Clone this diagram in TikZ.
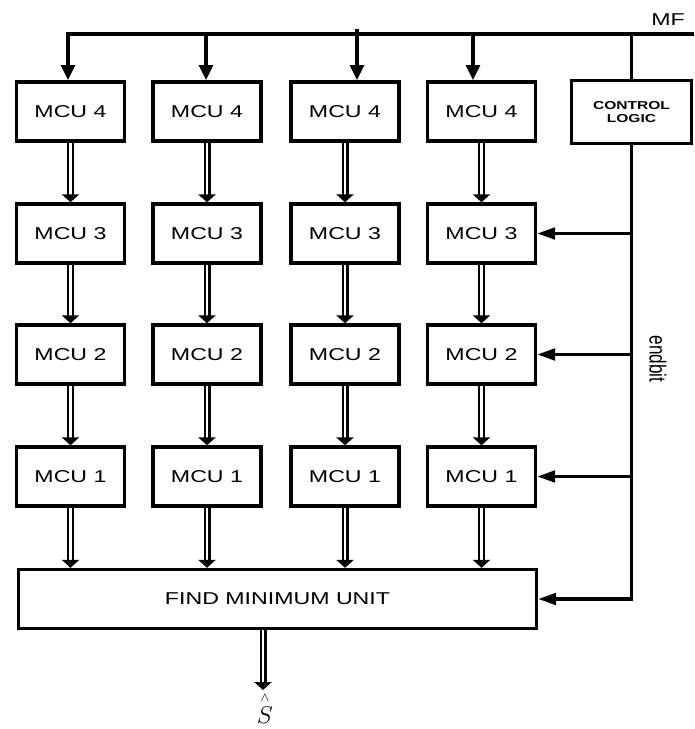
\documentclass[tikz,border=0pt]{standalone}
\usepackage{amsmath}
\usepackage{fontspec}
\setmainfont{Liberation Sans}
\usetikzlibrary{arrows.meta}
\newcommand{\wtext}[1]{\scalebox{1.35}[1]{#1}}

\begin{document}
\begin{tikzpicture}[x=0.25mm,y=-0.25mm,line width=0.85mm,
  font=\fontsize{12.2}{14}\selectfont,
  box/.style={draw,line width=0.85mm,minimum width=27mm,minimum height=14.75mm,inner sep=0pt},
  arr/.style={-{Triangle[length=3.8mm,width=3.4mm]}},
  sidearr/.style={-{Triangle[length=4.5mm,width=2.9mm]}},
  dbl/.style={double,line width=0.55mm,double distance=0.65mm,-{Triangle[length=2mm,width=4.3mm]}}]
  \useasboundingbox (0,0) rectangle (694,729);
  % processing array
  \foreach \c/\x in {1/70.5,2/207,3/345,4/481.5} {
    \foreach \r/\y in {4/111.5,3/233.5,2/354.5,1/476.5}
      \node[box] (m\c\r) at (\x,\y) {\wtext{MCU \r}};
    \draw[dbl] (m\c4) -- (m\c3);
    \draw[dbl] (m\c3) -- (m\c2);
    \draw[dbl] (m\c2) -- (m\c1);
  }
  \node[box,minimum width=129.5mm] (fmu) at (277.5,599) {\wtext{FIND MINIMUM UNIT}};
  \foreach \c in {1,...,4}
    \draw[dbl] (m\c1) -- (m\c1 |- fmu.north);
  \node[box,minimum width=30mm,minimum height=15.75mm,align=center,
    font=\bfseries\fontsize{8.2}{8.8}\selectfont] (ctl) at (631.5,112) {\wtext{CONTROL}\\\wtext{LOGIC}};
  % MF bus
  \coordinate (busR) at (694,34);
  \foreach \c/\x/\y in {1/68/34,2/206/34,3/357/29,4/473/34}
    \coordinate (t\c) at (\x,\y);
  \node (mf) at (668,20) {\wtext{MF}};
  \draw[arr] (busR) -- (t1) -- (t1 |- m14.north);
  \foreach \c in {2,3,4}
    \draw[arr] (t\c) -- (t\c |- m\c4.north);
  \draw (ctl.north) -- (ctl.north |- busR);
  % endbit
  \draw[sidearr] (ctl.south) |- (fmu.east);
  \foreach \r in {3,2,1}
    \draw[sidearr] (ctl.south |- m4\r.east) -- (m4\r.east);
  \node[rotate=-90] (endbit) at (658,359) {\scalebox{1}[1.35]{endbit}};
  % output
  \coordinate (out) at (263,690);
  \draw[dbl] (out |- fmu.south) -- (out);
  \node[inner sep=0pt,anchor=south] (shat) at (265,725) {\fontsize{19}{22}\selectfont$\overset{\scriptscriptstyle\wedge\vphantom{l}}{S}$};
\end{tikzpicture}
\end{document}
